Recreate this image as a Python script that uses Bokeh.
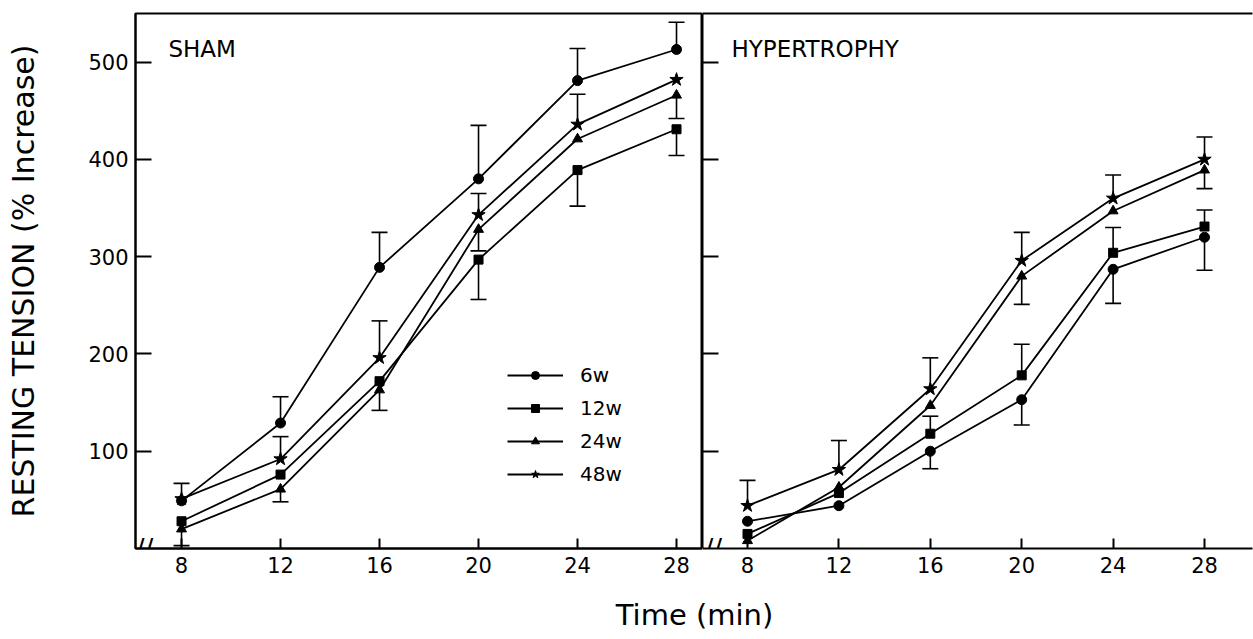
from bokeh.plotting import figure
from bokeh.models import (ColumnDataSource, Whisker, TeeHead, Legend, LegendItem,
                          Label, FixedTicker, LinearAxis, Range1d)
from bokeh.layouts import column, row
from bokeh.embed import file_html
from bokeh.resources import INLINE

FONT = "DejaVu Sans"

# ---------------- data ----------------
times = [8, 12, 16, 20, 24, 28]
series_names = ["6w", "12w", "24w", "48w"]
y_ticks = [100, 200, 300, 400, 500]

# SHAM (% increase of resting tension)
sham_6w = [49, 129, 289, 380, 481, 513]
sham_12w = [28, 76, 172, 297, 389, 431]
sham_24w = [20, 61, 163, 328, 421, 466]
sham_48w = [51, 92, 196, 343, 436, 482]
# signed error bars (+ drawn above the point, - drawn below, 0 = none)
sham_6w_err = [18, 27, 36, 55, 33, 28]
sham_12w_err = [0, 0, 0, -41, -37, -27]
sham_24w_err = [-17, -13, -21, -22, 0, -24]
sham_48w_err = [0, 23, 38, 22, 31, 0]

# HYPERTROPHY
hyp_6w = [28, 44, 100, 153, 287, 320]
hyp_12w = [15, 57, 118, 178, 304, 331]
hyp_24w = [8, 63, 147, 280, 347, 389]
hyp_48w = [44, 81, 164, 296, 360, 400]
hyp_6w_err = [0, 0, -18, -26, -35, -34]
hyp_12w_err = [0, 0, 18, 32, 26, 17]
hyp_24w_err = [0, 0, 0, -29, 0, -19]
hyp_48w_err = [26, 30, 32, 29, 24, 23]

markers = {"6w": "circle", "12w": "square", "24w": "triangle", "48w": "star"}
msizes = {"6w": 10, "12w": 9, "24w": 10, "48w": 14}


def style_axes(p, show_ylabels):
    p.grid.visible = False
    for ax in p.below:
        ax.ticker = FixedTicker(ticks=times)
        ax.major_tick_in = 10
        ax.major_tick_out = 0
        ax.minor_tick_in = 0
        ax.minor_tick_out = 0
        ax.axis_line_width = 2
        ax.major_tick_line_width = 2
        ax.major_label_text_font = FONT
        ax.major_label_text_font_size = "21px"
        ax.major_label_text_color = "black"
        ax.major_label_standoff = 8
    for ax in p.left:
        ax.ticker = FixedTicker(ticks=y_ticks)
        ax.major_tick_in = 16
        ax.major_tick_out = 0
        ax.minor_tick_in = 0
        ax.minor_tick_out = 0
        ax.axis_line_width = 2
        ax.major_tick_line_width = 2
        ax.major_label_text_font = FONT
        if show_ylabels:
            ax.major_label_text_font_size = "21px"
            ax.major_label_text_color = "black"
            ax.major_label_standoff = 7
        else:
            ax.major_label_text_font_size = "1px"
            ax.major_label_text_color = None
            ax.major_label_standoff = 0


def draw_series(p, values, errs):
    renderers = {}
    for name in series_names:
        ys = values[name]
        src = ColumnDataSource(dict(x=times, y=ys))
        ln = p.line("x", "y", source=src, line_color="black", line_width=1.8)
        sc = p.scatter("x", "y", source=src, marker=markers[name], size=msizes[name],
                       fill_color="black", line_color="black")
        renderers[name] = (ln, sc)
        e = errs[name]
        up = dict(x=[t for t, v, d in zip(times, ys, e) if d > 0],
                  lo=[v for t, v, d in zip(times, ys, e) if d > 0],
                  hi=[v + d for t, v, d in zip(times, ys, e) if d > 0])
        dn = dict(x=[t for t, v, d in zip(times, ys, e) if d < 0],
                  lo=[v + d for t, v, d in zip(times, ys, e) if d < 0],
                  hi=[v for t, v, d in zip(times, ys, e) if d < 0])
        if up["x"]:
            p.add_layout(Whisker(source=ColumnDataSource(up), base="x", lower="lo", upper="hi",
                                 line_width=1.6, line_color="black", lower_head=None,
                                 upper_head=TeeHead(size=16, line_width=1.6, line_color="black")))
        if dn["x"]:
            p.add_layout(Whisker(source=ColumnDataSource(dn), base="x", lower="lo", upper="hi",
                                 line_width=1.6, line_color="black", upper_head=None,
                                 lower_head=TeeHead(size=16, line_width=1.6, line_color="black")))
    return renderers


# ---------------- left panel: SHAM ----------------
p1 = figure(width=702, height=590, x_range=Range1d(6.14, 29.05), y_range=Range1d(0, 550),
            output_backend="svg", toolbar_location=None,
            min_border_left=135, min_border_right=0, min_border_top=13, min_border_bottom=42)
p1.outline_line_color = "black"
p1.outline_line_width = 2
style_axes(p1, True)
p1.yaxis.axis_label = "RESTING TENSION (% Increase)"
p1.yaxis.axis_label_text_font = FONT
p1.yaxis.axis_label_text_font_size = "30px"
p1.yaxis.axis_label_text_font_style = "normal"
p1.yaxis.axis_label_text_color = "black"
p1.yaxis.axis_label_standoff = 44

r1 = draw_series(p1, dict(zip(series_names, [sham_6w, sham_12w, sham_24w, sham_48w])),
                 dict(zip(series_names, [sham_6w_err, sham_12w_err, sham_24w_err, sham_48w_err])))

p1.add_layout(Label(x=7.47, y=513, text="SHAM", text_font=FONT, text_font_size="23px",
                    text_color="black", text_baseline="middle", text_align="left"))
p1.add_layout(Label(x=6.14, y=0, x_offset=9, text="//", text_font=FONT, text_font_size="26px",
                    text_color="black", text_baseline="middle", text_align="center"))

legend = Legend(items=[LegendItem(label=n, renderers=list(r1[n])) for n in series_names],
                location=(372, 62), border_line_color=None, background_fill_alpha=0,
                padding=0, margin=0, glyph_width=56, glyph_height=20, label_height=20,
                spacing=9, label_standoff=17, label_text_font=FONT, label_text_font_size="20px",
                label_text_color="black")
p1.add_layout(legend)

# ---------------- right panel: HYPERTROPHY ----------------
p2 = figure(width=551, height=590, x_range=Range1d(6.03, 30.1), y_range=Range1d(0, 550),
            output_backend="svg", toolbar_location=None,
            min_border_left=0, min_border_right=1, min_border_top=13, min_border_bottom=42)
p2.outline_line_color = None
style_axes(p2, False)
top_axis = LinearAxis(ticker=FixedTicker(ticks=[]), major_label_text_font_size="1px",
                      major_label_text_color=None,
                      axis_line_width=2, major_tick_in=0, major_tick_out=0,
                      minor_tick_in=0, minor_tick_out=0, major_label_standoff=0)
p2.add_layout(top_axis, "above")
draw_series(p2, dict(zip(series_names, [hyp_6w, hyp_12w, hyp_24w, hyp_48w])),
            dict(zip(series_names, [hyp_6w_err, hyp_12w_err, hyp_24w_err, hyp_48w_err])))
p2.add_layout(Label(x=7.3, y=513, text="HYPERTROPHY", text_font=FONT, text_font_size="23px",
                    text_color="black", text_baseline="middle", text_align="left"))
p2.add_layout(Label(x=6.03, y=0, x_offset=2, text="//", text_font=FONT, text_font_size="26px",
                    text_color="black", text_baseline="middle", text_align="left"))

# ---------------- shared x-axis title ----------------
p3 = figure(width=1253, height=49, x_range=Range1d(0, 1), y_range=Range1d(0, 1),
            output_backend="svg", toolbar_location=None,
            x_axis_location=None, y_axis_location=None,
            min_border_left=0, min_border_right=0, min_border_top=0, min_border_bottom=0)
p3.outline_line_color = None
p3.grid.visible = False
p3.add_layout(Label(x=694, y=25, x_units="screen", y_units="screen", text="Time (min)",
                    text_font=FONT, text_font_size="29px", text_color="black",
                    text_align="center", text_baseline="middle"))

layout = column(row(p1, p2), p3)
open("out.html", "w").write(file_html(layout, INLINE))
